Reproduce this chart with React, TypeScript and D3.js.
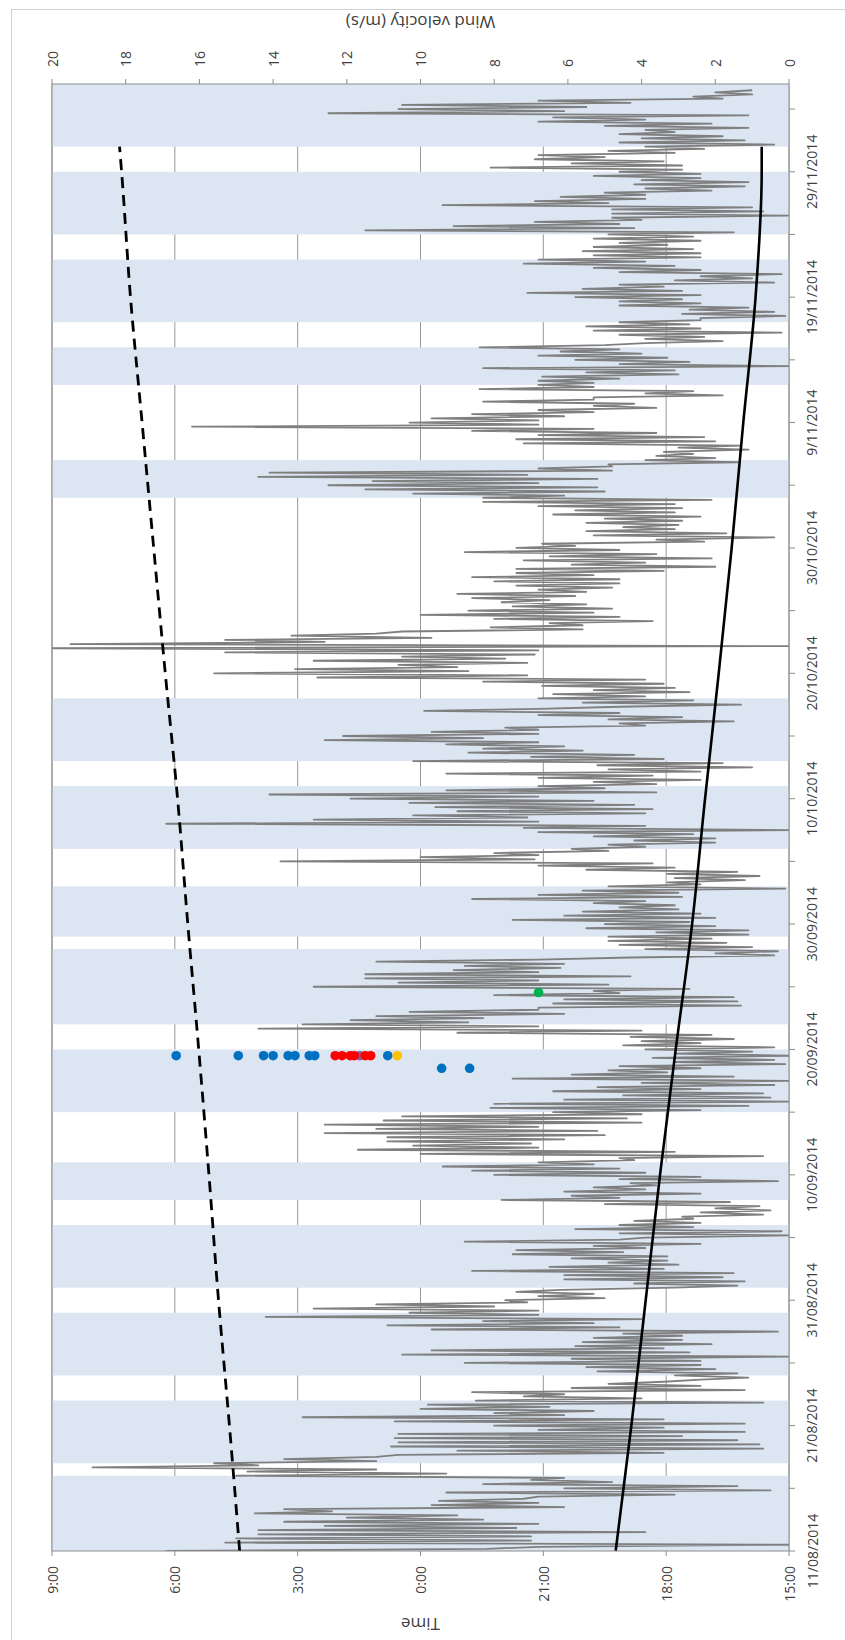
import React from "react";
import * as d3 from "d3";

const width = 845;
const height = 1640;
const plot = { left: 52, right: 789, top: 84, bottom: 1551 };

// date axis runs bottom (start) to top (end)
const axisStart = "2014-08-11 00:00";
const axisEnd = "2014-12-06 00:00";

const windTicks = [0, 2, 4, 6, 8, 10, 12, 14, 16, 18, 20];
const timeTicks = ["15:00", "18:00", "21:00", "0:00", "3:00", "6:00", "9:00"];
const dateLabels = [
  "11/08/2014", "21/08/2014", "31/08/2014", "10/09/2014", "20/09/2014", "30/09/2014",
  "10/10/2014", "20/10/2014", "30/10/2014", "9/11/2014", "19/11/2014", "29/11/2014",
];

// shaded periods
const bandStart = [
  "2014-08-11", "2014-08-18", "2014-08-25", "2014-09-01", "2014-09-08", "2014-09-15",
  "2014-09-22", "2014-09-29", "2014-10-06", "2014-10-13", "2014-11-03", "2014-11-12",
  "2014-11-17", "2014-11-24", "2014-12-01",
];
const bandEnd = [
  "2014-08-17", "2014-08-23", "2014-08-30", "2014-09-06", "2014-09-11", "2014-09-20",
  "2014-09-28", "2014-10-03", "2014-10-11", "2014-10-18", "2014-11-06", "2014-11-15",
  "2014-11-22", "2014-11-29", "2014-12-06",
];

const sunDates = [
  "2014-08-11", "2014-08-21", "2014-08-31", "2014-09-10", "2014-09-20", "2014-09-30",
  "2014-10-10", "2014-10-20", "2014-10-30", "2014-11-09", "2014-11-19", "2014-11-29", "2014-12-01",
];
const sunsetTimes = [
  "19:14", "18:51", "18:30", "18:09", "17:46", "17:22", "17:03", "16:43", "16:24", "16:07",
  "15:49", "15:40", "15:40",
];
const sunriseTimes = [
  "4:25", "4:40", "4:56", "5:10", "5:25", "5:41", "5:56", "6:14", "6:31", "6:48", "7:05",
  "7:18", "7:21",
];

const windStart = "2014-08-11 00:00";
const windStepHours = 4;
const windSpeed = [
  16.9, 8.2, 6.8, 0, 15.3, 7.0, 15.0, 7.0, 14.4, 3.9, 14.4, 7.4, 12.6, 6.8, 13.7, 8.3, 12.0, 9.0, 14.5, 12.4,
  13.7, 6.1, 9.7, 6.8, 9.5, 7.2, 6.8, 3.1, 9.3, 0.5, 6.1, 1.4, 8.3, 4.8, 7.0, 6.1, 15.0, 9.3, 14.7, 11.2,
  18.9, 14.4, 15.6, 11.2, 13.7, 11.2, 10.6, 3.4, 9.0, 0.7, 10.8, 0.8, 10.6, 1.4, 10.7, 2.9, 10.6, 1.2, 6.8, 3.4,
  8.0, 1.2, 10.7, 3.4, 13.2, 6.1, 8.0, 5.3, 10.0, 6.5, 9.8, 0.7, 8.5, 4.0, 7.2, 6.1, 8.6, 1.2, 5.9, 2.4,
  4.9, 3.4,
  2.4, 1.1, 3.1, 1.4, 5.2, 2.0, 5.5, 2.4, 8.8, 2.4, 5.9, 0, 10.5, 2.7, 9.7, 3.4, 5.8, 2.1, 5.6, 2.9,
  5.3, 2.9, 4.5, 0.3, 9.7, 4.6, 10.9, 5.3, 8.3, 4.0, 14.2, 6.8, 10.3, 6.8, 12.9, 8.0, 11.2, 7.1, 7.7, 5.0,
  6.8, 5.3, 7.4, 6.2, 3.1, 1.4, 4.2, 1.2, 6.1, 1.8, 6.1, 1.5, 8.6, 3.4, 6.5, 3.0, 4.9, 3.3, 5.9, 3.3,
  7.5, 4.5, 7.4, 3.9, 5.3, 2.4, 8.8, 4.6, 3.9, 0, 4.6, 0.2, 5.8, 2.6, 4.6, 2.4, 4.2, 2.6, 2.9, 0.7,
  2.4, 0.5, 2.0, 0.8, 5.0, 1.6, 7.8, 4.6, 5.9, 2.4, 6.1, 3.9, 5.3, 3.6, 4.3, 0.3, 4.6, 2.4, 8.0, 3.9,
  8.6, 4.6, 9.4, 5.3, 6.8, 4.2, 4.6, 0.7, 10.0, 3.1,
  11.7, 6.8, 10.2, 7.0, 10.9, 6.1, 10.9, 5.0, 12.6, 5.2, 11.2, 6.8, 12.6, 4.0, 11.0, 4.4, 10.5, 4.0, 6.4, 2.4,
  8.1, 1.1, 8.0, 0, 6.1, 0.5, 4.5, 0.7, 6.4, 2.4, 5.2, 0.4, 4.0, 0, 7.5, 1.5, 5.9, 3.3, 4.9, 2.4,
  4.6, 0.1, 3.1, 0.4, 3.7, 0, 3.1, 1.0, 3.9, 0.4, 4.5, 2.4, 4.0, 1.5, 4.3, 2.1, 9.0, 4.0, 14.4, 6.8,
  13.2, 8.7, 11.9, 8.3, 11.2, 6.1, 10.3, 6.8, 6.8, 1.3, 6.4, 1.4, 6.1, 1.5, 8.0, 4.6, 5.3, 2.7, 12.9, 4.9,
  10.6, 6.8, 11.5, 4.3, 11.5, 6.8, 9.1, 6.2, 8.8, 6.1, 11.2, 6.8, 4.3, 0.4, 2.0, 0.3, 3.9, 1.0, 4.6, 1.7,
  4.9, 2.1, 4.9, 1.1, 3.6, 1.1, 5.5, 2.0, 5.0, 2.7, 7.5, 2.0, 6.1, 2.4, 5.6, 3.0, 4.6, 3.1, 5.3, 3.9,
  8.6, 2.9, 6.8, 3.0, 5.6, 0.1, 4.9, 2.4, 3.3, 1.2, 3.1, 0.8, 3.3, 1.4, 5.5, 3.1, 6.8, 3.7, 13.8, 6.9,
  10.0, 6.8, 8.0, 4.9, 5.9, 3.9, 4.9, 2.0, 4.2, 2.0, 5.3, 2.6, 6.8, 0, 7.2, 3.9, 16.9, 6.8, 12.9, 7.1,
  10.2, 3.9, 9.0, 3.7, 9.6, 4.2, 10.3, 5.3, 11.9, 6.8, 14.1, 3.6, 9.3, 5.0, 6.8, 3.6, 5.3, 2.4,
  6.8, 3.7, 9.3, 2.4, 4.9, 1.0, 5.2, 1.8, 10.2, 3.4, 7.0, 4.2, 8.7, 5.6, 8.3, 6.1, 9.3, 6.8, 12.6, 8.3,
  12.1, 6.8, 9.7, 6.8, 7.7, 3.9, 4.6, 1.5, 4.9, 2.9, 6.8, 4.6, 9.9, 6.8, 4.6, 1.3, 5.6, 2.6, 6.8, 3.9,
  6.4, 2.7, 5.3, 3.1, 6.7, 3.4, 8.3, 3.9, 12.8, 7.1, 15.6, 8.7, 13.4, 9.0, 10.6, 7.1, 12.9, 7.7, 10.5, 6.9,
  15.3, 6.8, 20.6, 0, 19.5, 12.6, 15.3, 9.7, 13.5, 11.2, 10.5, 5.6, 8.1, 5.6, 6.5, 3.7, 8.0, 4.6, 10.0, 5.3,
  8.7, 4.8, 7.5, 5.5, 7.8, 6.5, 8.6, 5.8, 9.0, 5.5, 6.8, 4.8, 7.4, 4.6, 8.0, 4.6, 8.6, 5.3, 7.4, 3.4,
  7.4, 2.0, 5.9, 3.9, 7.2, 2.1, 6.5, 3.6, 8.8, 4.6, 7.4, 5.8, 6.7, 2.3, 3.6, 0.4, 5.3, 1.7, 5.5, 3.1,
  4.5, 3.0, 5.5, 2.9, 5.0, 2.4, 6.4, 3.1, 5.8, 2.9, 6.8, 3.1, 8.3, 2.1,
  8.3, 6.1, 10.2, 5.0, 11.5, 5.2, 12.5, 6.8, 11.3, 5.2, 14.4, 7.1, 14.1, 4.8, 6.8, 4.8, 4.9, 1.4, 3.9, 2.0,
  3.6, 2.6, 3.4, 1.1, 3.0, 1.3, 7.2, 2.0, 7.4, 2.3, 6.8, 3.6, 8.6, 5.3, 16.2, 6.8, 10.3, 6.8, 9.7, 6.1,
  8.6, 5.3, 6.8, 3.6, 5.3, 4.2, 8.3, 5.3, 5.3, 1.8, 3.9, 2.6, 8.4, 5.3, 6.8, 5.3, 6.8, 4.6, 6.7, 3.0,
  5.5, 3.1, 8.3, 0, 4.6, 2.7, 5.8, 3.3, 6.8, 4.0, 6.2, 4.6, 8.4, 5.0, 3.9, 1.8, 3.9, 2.3, 4.6, 0.2,
  5.3, 2.4, 5.5, 2.7, 4.6, 2.4, 2.4, 0.1, 2.9, 0.4, 2.7, 1.1, 4.6, 2.4, 4.6, 2.9, 5.8, 2.4, 7.1, 2.9,
  5.6, 3.4, 4.6, 0.4, 3.1, 1.0, 2.4, 0.2, 4.6, 2.4, 5.3, 3.1, 7.2, 3.9, 6.8, 2.4, 5.3, 2.4, 5.6, 2.6,
  5.3, 3.3, 4.6, 2.4,
  5.3, 2.6, 4.9, 1.5, 11.5, 4.2, 9.1, 4.6, 6.9, 4.0, 4.8, 0, 4.8, 0.7, 4.8, 1.0, 9.4, 4.9, 6.9, 3.9,
  6.2, 3.9, 5.0, 2.1, 3.9, 1.2, 4.2, 1.1, 4.0, 2.4, 5.3, 2.4, 4.6, 2.9, 8.1, 2.9, 5.9, 3.4, 6.9, 5.0,
  6.8, 3.1, 4.9, 2.3, 3.9, 0.4, 4.6, 1.2, 4.0, 1.8, 4.6, 3.1, 3.9, 1.1, 5.0, 2.1, 6.8, 3.9, 6.4, 1.1,
  12.5, 6.1, 10.6, 5.5, 10.5, 4.3, 6.8, 1.8, 2.6, 1.0, 2.0, 1.0,
];

// observation nights and times
const night1 = "2014-09-19 12:00";
const night2 = "2014-09-18 12:00";
const night3 = "2014-09-24 13:00";
const blueTimes1 = ["5:58", "4:27", "3:50", "3:36", "3:14", "3:04", "2:43", "2:35", "0:48"];
const purpleTimes1 = ["1:29"];
const redTimes1 = ["2:05", "1:55", "1:43", "1:37", "1:21", "1:13"];
const yellowTimes1 = ["0:34"];
const blueTimes2 = ["23:29", "22:48"];
const greenTimes3 = ["21:07"];

const parseDT = d3.timeParse("%Y-%m-%d %H:%M");
const parseD = d3.timeParse("%Y-%m-%d");
const parseLabel = d3.timeParse("%d/%m/%Y");

// hours after 15:00, wrapping past midnight
const toHours = (s: string) => {
  const [h, m] = s.split(":").map(Number);
  const t = h + m / 60;
  return t < 15 ? t + 24 : t;
};

const font = "'Open Sans', 'DejaVu Sans', sans-serif";
const ink = "#404040";
const gridColor = "#8c8c8c";

export default function App() {
  const y = d3
    .scaleTime()
    .domain([parseDT(axisStart) as Date, parseDT(axisEnd) as Date])
    .range([plot.bottom, plot.top]);
  const xWind = d3.scaleLinear().domain([0, 20]).range([plot.right, plot.left]);
  const xTime = d3.scaleLinear().domain([15, 33]).range([plot.right, plot.left]);

  const start = parseDT(windStart) as Date;
  const windPts = windSpeed.map((v, i) => ({
    t: d3.timeHour.offset(start, i * windStepHours),
    v,
  }));
  const windLine = d3
    .line<{ t: Date; v: number }>()
    .x((d) => xWind(d.v))
    .y((d) => y(d.t));

  const sunLine = d3
    .line<{ t: Date; h: number }>()
    .x((d) => xTime(d.h))
    .y((d) => y(d.t))
    .curve(d3.curveMonotoneY);
  const sunset = sunDates.map((d, i) => ({ t: parseD(d) as Date, h: toHours(sunsetTimes[i]) }));
  const sunrise = sunDates.map((d, i) => ({ t: parseD(d) as Date, h: toHours(sunriseTimes[i]) }));

  const minorTicks = d3.range(0, 117, 5).map((d) => d3.timeDay.offset(parseD("2014-08-11") as Date, d));

  const dotGroups = [
    { night: night1, times: blueTimes1, color: "#0070C0" },
    { night: night1, times: purpleTimes1, color: "#8064A2" },
    { night: night1, times: redTimes1, color: "#FF0000" },
    { night: night1, times: yellowTimes1, color: "#FFC000" },
    { night: night2, times: blueTimes2, color: "#0070C0" },
    { night: night3, times: greenTimes3, color: "#00B050" },
  ];

  const midX = (plot.left + plot.right) / 2;
  const windLabelY = plot.top - 17;
  const timeLabelY = plot.bottom + 15;
  const dateLabelX = 812;
  // upside-down titles: baseline sits above the glyphs' visual centre
  const topTitleBase = 16;
  const bottomTitleBase = 1618;

  return (
    <svg
      width={width}
      height={height}
      style={{ position: "absolute", left: 0, top: 0, background: "#fff" }}
      fontFamily={font}
    >
      <defs>
        <clipPath id="plotClip">
          <rect x={plot.left} y={plot.top} width={plot.right - plot.left} height={plot.bottom - plot.top} />
        </clipPath>
      </defs>
      <rect x={11.5} y={9.5} width={900} height={1700} fill="#fff" stroke="#d0d0d0" />

      {/* gridlines */}
      {timeTicks.map((t) => (
        <line
          key={t}
          x1={xTime(toHours(t))}
          x2={xTime(toHours(t))}
          y1={plot.top}
          y2={plot.bottom}
          stroke={gridColor}
          strokeWidth={0.9}
        />
      ))}

      {/* shaded periods */}
      {bandStart.map((s, i) => {
        const y0 = y(parseD(s) as Date);
        const y1 = Math.max(y(parseD(bandEnd[i]) as Date), plot.top);
        return (
          <rect key={s} x={plot.left} width={plot.right - plot.left} y={y1} height={y0 - y1} fill="#DCE6F2" />
        );
      })}

      <g clipPath="url(#plotClip)">
        <path d={windLine(windPts) || ""} fill="none" stroke="#7f7f7f" strokeWidth={1.8} strokeLinejoin="round" />
      </g>

      <path d={sunLine(sunset) || ""} fill="none" stroke="#000" strokeWidth={2.6} />
      <path d={sunLine(sunrise) || ""} fill="none" stroke="#000" strokeWidth={2.8} strokeDasharray="11 7" />

      {dotGroups.map((g, gi) =>
        g.times.map((t, i) => (
          <circle
            key={`${gi}-${i}`}
            cx={xTime(toHours(t))}
            cy={y(parseDT(g.night) as Date)}
            r={4.8}
            fill={g.color}
          />
        ))
      )}

      {/* axes lines */}
      <line x1={plot.left} x2={plot.right} y1={plot.top} y2={plot.top} stroke={gridColor} />
      <line x1={plot.left} x2={plot.right} y1={plot.bottom} y2={plot.bottom} stroke={gridColor} />
      <line x1={plot.right} x2={plot.right} y1={plot.top} y2={plot.bottom} stroke={gridColor} />
      <line x1={plot.left} x2={plot.left} y1={plot.top} y2={plot.bottom} stroke={gridColor} />

      {/* wind axis (top) */}
      {windTicks.map((v) => (
        <g key={v}>
          <line x1={xWind(v)} x2={xWind(v)} y1={plot.top} y2={plot.top - 5} stroke={gridColor} />
          <text
            x={xWind(v)}
            y={windLabelY}
            transform={`rotate(-90, ${xWind(v)}, ${windLabelY})`}
            textAnchor="start"
            dominantBaseline="central"
            fontSize={14}
            fill={ink}
          >
            {v}
          </text>
        </g>
      ))}
      <text
        x={midX}
        y={topTitleBase}
        transform={`rotate(180, ${midX}, ${topTitleBase})`}
        textAnchor="middle"
        fontSize={17}
        fill={ink}
      >
        Wind velocity (m/s)
      </text>

      {/* time axis (bottom) */}
      {timeTicks.map((t) => {
        const x = xTime(toHours(t));
        return (
          <g key={t}>
            <line x1={x} x2={x} y1={plot.bottom} y2={plot.bottom + 5} stroke={gridColor} />
            <text
              x={x}
              y={timeLabelY}
              transform={`rotate(-90, ${x}, ${timeLabelY})`}
              textAnchor="end"
              dominantBaseline="central"
              fontSize={14}
              fill={ink}
            >
              {t}
            </text>
          </g>
        );
      })}
      <text
        x={midX}
        y={bottomTitleBase}
        transform={`rotate(180, ${midX}, ${bottomTitleBase})`}
        textAnchor="middle"
        fontSize={17}
        fill={ink}
      >
        Time
      </text>

      {/* date axis (right) */}
      {minorTicks.map((d, i) => (
        <line key={i} x1={plot.right} x2={plot.right + 6} y1={y(d)} y2={y(d)} stroke={gridColor} />
      ))}
      {dateLabels.map((s) => {
        const yy = y(parseLabel(s) as Date);
        return (
          <text
            key={s}
            x={dateLabelX}
            y={yy}
            transform={`rotate(-90, ${dateLabelX}, ${yy})`}
            textAnchor="middle"
            dominantBaseline="central"
            fontSize={14}
            fill={ink}
          >
            {s}
          </text>
        );
      })}
    </svg>
  );
}
